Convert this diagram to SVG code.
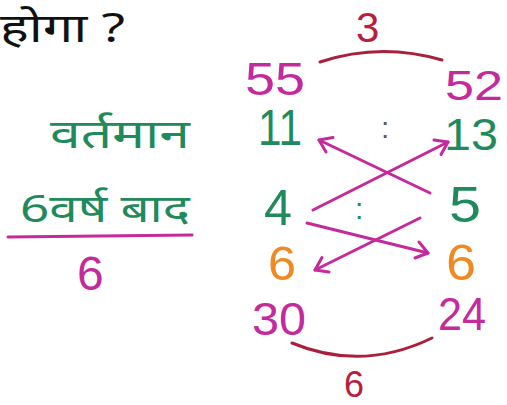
<svg xmlns="http://www.w3.org/2000/svg" width="507" height="405" viewBox="0 0 507 405">
<defs>
<style>
.t{font-family:"Noto Sans","Noto Sans Devanagari","Lohit Devanagari",sans-serif;}
.n{font-family:"Liberation Sans","DejaVu Sans",sans-serif;}
.k{fill:#111;}
.g{fill:#1f8a5c;}
.m{fill:#c42a9c;}
.o{fill:#ef8a22;}
.r{fill:#b52040;}
.ln{fill:none;stroke-linecap:round;stroke-linejoin:round;}
.ms{stroke:#c42a9c;stroke-width:3;}
.rs{stroke:#a8203c;stroke-width:3;}
</style>
</defs>
<rect width="507" height="405" fill="#fff"/>
<text class="t k" x="0" y="42" font-size="40" textLength="125" lengthAdjust="spacingAndGlyphs">होगा ?</text>
<text class="t g" x="50" y="148" font-size="40" textLength="140" lengthAdjust="spacingAndGlyphs">वर्तमान</text>
<text class="t g" x="20" y="222" font-size="38" textLength="170" lengthAdjust="spacingAndGlyphs">6वर्ष बाद</text>
<line class="ln ms" x1="8" y1="237" x2="192" y2="235"/>
<text class="n m" x="77" y="290" font-size="48">6</text>

<text class="n r" x="356" y="42" font-size="42">3</text>
<path class="ln rs" d="M320,62 Q380,42 442,60"/>
<text class="n m" x="245" y="95" font-size="46" textLength="60" lengthAdjust="spacingAndGlyphs">55</text>
<text class="n m" x="445" y="100" font-size="42" textLength="58" lengthAdjust="spacingAndGlyphs">52</text>
<text class="n g" x="258" y="145" font-size="50" textLength="44" lengthAdjust="spacingAndGlyphs">11</text>
<text class="n g" x="444" y="150" font-size="44" textLength="54" lengthAdjust="spacingAndGlyphs">13</text>
<text class="n k" x="381" y="138" font-size="30" fill-opacity="0.7">:</text>
<text class="n g" x="264" y="225" font-size="50" textLength="28" lengthAdjust="spacingAndGlyphs">4</text>
<text class="n g" x="449" y="222" font-size="50" textLength="32" lengthAdjust="spacingAndGlyphs">5</text>
<text class="n g" x="355" y="219" font-size="30">:</text>
<text class="n o" x="268" y="280" font-size="48" textLength="28" lengthAdjust="spacingAndGlyphs">6</text>
<text class="n o" x="446" y="280" font-size="50" textLength="30" lengthAdjust="spacingAndGlyphs">6</text>
<text class="n m" x="252" y="335" font-size="46" textLength="54" lengthAdjust="spacingAndGlyphs">30</text>
<text class="n m" x="438" y="330" font-size="46" textLength="48" lengthAdjust="spacingAndGlyphs">24</text>
<path class="ln rs" d="M292,343 Q362,372 432,338"/>
<text class="n r" x="344" y="397" font-size="36">6</text>

<g id="connectors">
<line class="ln ms" x1="430" y1="193" x2="319" y2="140"/>
<polyline class="ln ms" points="333,137.5 319,140 326,152"/>
<line class="ln ms" x1="313" y1="210" x2="448" y2="142"/>
<polyline class="ln ms" points="434,140 448,142 441,154.5"/>
<line class="ln ms" x1="307" y1="223" x2="428" y2="253"/>
<polyline class="ln ms" points="419,242 428,253 415,258"/>
<line class="ln ms" x1="420" y1="218" x2="315" y2="270"/>
<polyline class="ln ms" points="322,257.5 315,270 329,272"/>
</g>
</svg>
